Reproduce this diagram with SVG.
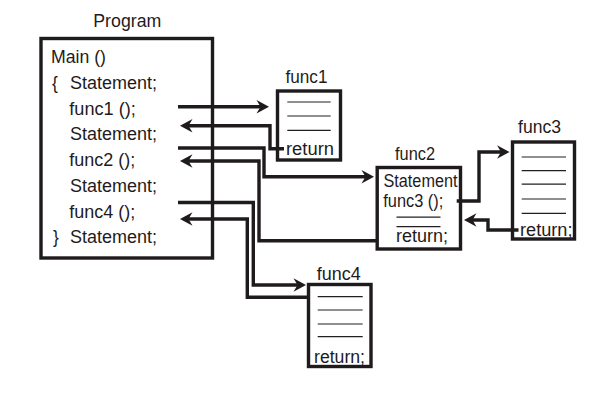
<svg xmlns="http://www.w3.org/2000/svg" width="607" height="401" viewBox="0 0 607 401">
<style>
.t{font-family:"Liberation Sans",Arial,Helvetica,sans-serif;font-size:17.5px;fill:#1f1b1c}
.box{fill:#fff;stroke:#1f1b1c;stroke-width:3.4}
.rule{stroke:#231f20;stroke-width:1.2;fill:none}
.c{fill:none;stroke:#1f1b1c;stroke-width:3.4;stroke-linejoin:miter}
.ah{fill:#1f1b1c}
</style>
<defs>
<marker id="ah" markerUnits="userSpaceOnUse" viewBox="-8 -7 14 14" refX="0" refY="0" markerWidth="14" markerHeight="14" orient="auto" overflow="visible">
<path class="ah" d="M5,0 L-7.5,-6.8 L-3.5,0 L-7.5,6.8 Z"/>
</marker>
</defs>
<rect width="607" height="401" fill="#fff"/>

<g id="program">
<text class="t" x="93.3" y="27.3" textLength="68" lengthAdjust="spacingAndGlyphs">Program</text>
<rect class="box" x="41" y="38.5" width="171.5" height="219.5" stroke-width="3.6"/>
<text class="t" x="51" y="63.3" textLength="55" lengthAdjust="spacingAndGlyphs">Main ()</text>
<text class="t" x="52" y="89">{</text>
<text class="t" x="70" y="89" textLength="87" lengthAdjust="spacingAndGlyphs">Statement;</text>
<text class="t" x="69.3" y="114.7" textLength="66.5" lengthAdjust="spacingAndGlyphs">func1 ();</text>
<text class="t" x="70" y="140.4" textLength="87" lengthAdjust="spacingAndGlyphs">Statement;</text>
<text class="t" x="69.3" y="166.1" textLength="66" lengthAdjust="spacingAndGlyphs">func2 ();</text>
<text class="t" x="70" y="191.8" textLength="87" lengthAdjust="spacingAndGlyphs">Statement;</text>
<text class="t" x="69.3" y="217.5" textLength="66" lengthAdjust="spacingAndGlyphs">func4 ();</text>
<text class="t" x="53" y="243.2">}</text>
<text class="t" x="70" y="243.2" textLength="87" lengthAdjust="spacingAndGlyphs">Statement;</text>
</g>

<g id="func1">
<text class="t" x="285.5" y="83.3" textLength="42" lengthAdjust="spacingAndGlyphs">func1</text>
<rect class="box" x="277.5" y="91" width="63" height="69"/>
<path class="rule" d="M287.3,102 H330.7 M287.3,116 H330.7 M287.3,130.3 H330.7"/>
<text class="t" x="286" y="155" textLength="48" lengthAdjust="spacingAndGlyphs">return</text>
</g>

<g id="func2">
<text class="t" x="395" y="160" textLength="40" lengthAdjust="spacingAndGlyphs">func2</text>
<rect class="box" x="377.2" y="167.5" width="83.3" height="81.5"/>
<text class="t" x="383.5" y="186.7" textLength="74" lengthAdjust="spacingAndGlyphs">Statement</text>
<text class="t" x="383.3" y="206.5" textLength="60" lengthAdjust="spacingAndGlyphs">func3 ();</text>
<path class="rule" d="M396.5,217.2 H440.5 M396.5,226.7 H440.5"/>
<text class="t" x="396" y="242" textLength="52" lengthAdjust="spacingAndGlyphs">return;</text>
</g>

<g id="func3">
<text class="t" x="518" y="133.3" textLength="43" lengthAdjust="spacingAndGlyphs">func3</text>
<rect class="box" x="512.5" y="142" width="62" height="97" stroke-width="4"/>
<path class="rule" d="M521.7,157 H566 M521.7,170.7 H566 M521.7,184.2 H566 M521.7,199 H566 M521.7,213.3 H566"/>
<text class="t" x="520" y="236" textLength="52.5" lengthAdjust="spacingAndGlyphs">return;</text>
</g>

<g id="func4">
<text class="t" x="316.7" y="279.5" textLength="44" lengthAdjust="spacingAndGlyphs">func4</text>
<rect class="box" x="308.5" y="284.5" width="62.5" height="82" stroke-width="3.6"/>
<path class="rule" d="M317.7,296.7 H362.7 M317.7,310 H362.7 M317.7,324 H362.7 M317.7,336.7 H362.7"/>
<text class="t" x="314" y="363" textLength="51" lengthAdjust="spacingAndGlyphs">return;</text>
</g>

<g id="connectors">
<path class="c" marker-end="url(#ah)" d="M178,106.7 H264"/>
<path class="c" marker-end="url(#ah)" d="M284,148.7 H270 V125.8 H185"/>
<path class="c" marker-end="url(#ah)" d="M178,148 H264 V176.7 H369"/>
<path class="c" marker-end="url(#ah)" stroke-width="2.8" d="M376,240.7 H259 V161 H185"/>
<path class="c" marker-end="url(#ah)" d="M178,202.5 H253.3 V285 H301"/>
<path class="c" marker-end="url(#ah)" d="M307,297.3 H247.3 V219 H185"/>
<path class="c" marker-end="url(#ah)" d="M456.7,201 H479 V152 H504.5"/>
<path class="c" marker-end="url(#ah)" d="M518.5,230 H488 V220 H469"/>
</g>
</svg>
